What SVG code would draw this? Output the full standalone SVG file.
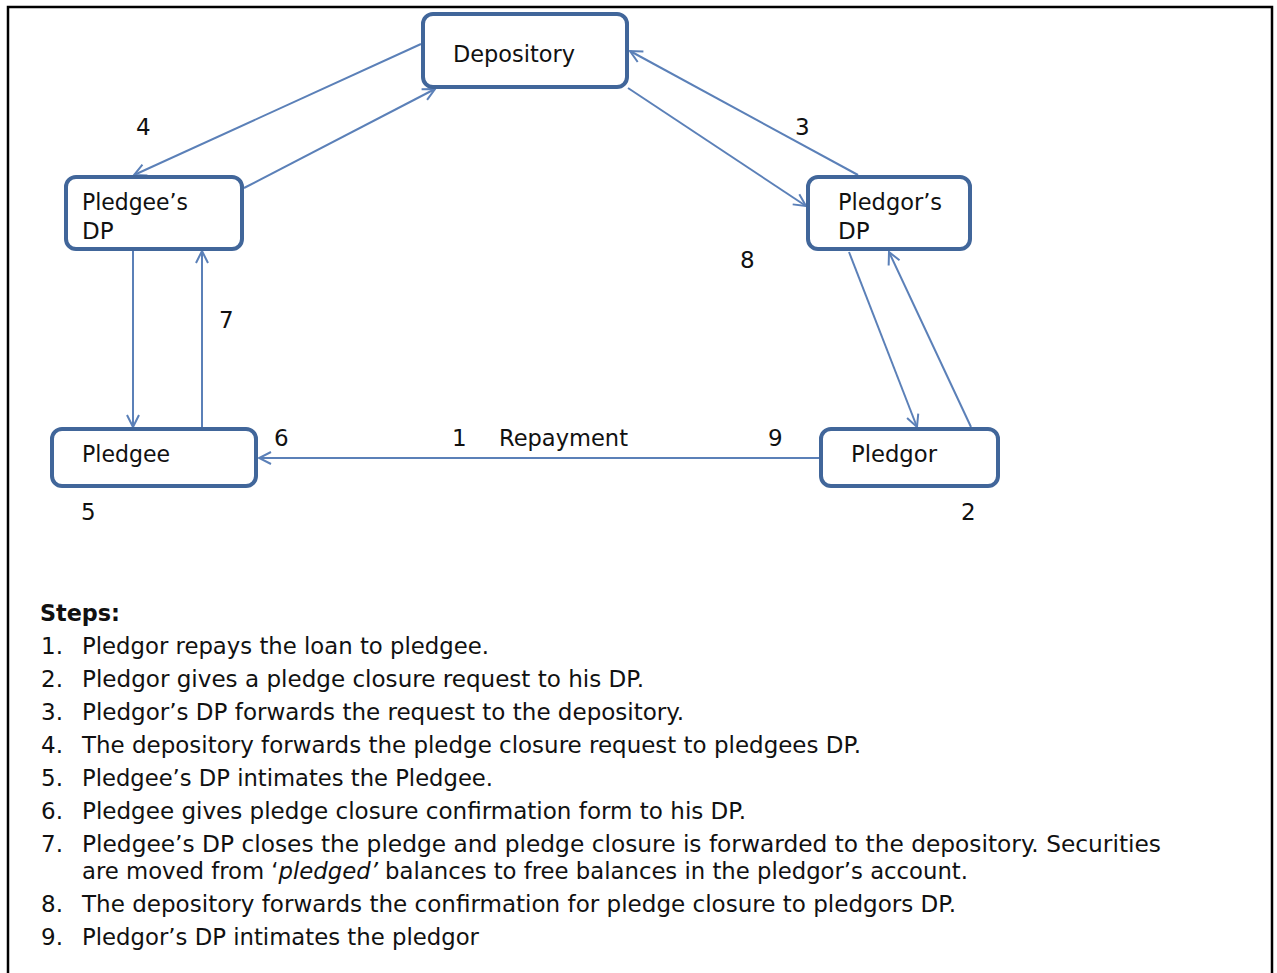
<svg xmlns="http://www.w3.org/2000/svg" width="1277" height="973" viewBox="0 0 1277 973">
<style>
.box{fill:#fff;stroke:#41669a;stroke-width:4}
.lbl{font-family:"DejaVu Sans",Verdana,sans-serif;font-size:23px;fill:#111}
.step{font-family:"DejaVu Sans",Verdana,sans-serif;font-size:23px;fill:#111}
.con{stroke:#5b80b8;stroke-width:2;fill:none;marker-end:url(#ah)}
</style>
<defs>
<marker id="ah" viewBox="-14 -8 16 16" refX="0" refY="0" markerWidth="16" markerHeight="16" markerUnits="userSpaceOnUse" orient="auto">
<path d="M-12,-6 L0,0 L-12,6" fill="none" stroke="#5b80b8" stroke-width="2"/>
</marker>
</defs>
<rect x="0" y="0" width="1277" height="973" fill="#fff"/>
<path d="M8,980 L8,7 L1272,7 L1272,980" fill="none" stroke="#000" stroke-width="2.5"/>

<g id="connectors">
<line class="con" x1="421" y1="44" x2="134" y2="175"/>
<line class="con" x1="244" y1="188" x2="435" y2="89"/>
<line class="con" x1="858" y1="175" x2="630" y2="51"/>
<line class="con" x1="628" y1="88" x2="806" y2="206"/>
<line class="con" x1="133" y1="251" x2="133" y2="427"/>
<line class="con" x1="202" y1="427" x2="202" y2="251"/>
<line class="con" x1="849" y1="252" x2="917" y2="427"/>
<line class="con" x1="971" y1="427" x2="889" y2="252"/>
<line class="con" x1="819" y1="458" x2="259" y2="458"/>
</g>

<g id="depository">
<rect class="box" x="423" y="14" width="204" height="73" rx="10"/>
<text class="lbl" x="453" y="62" textLength="122" lengthAdjust="spacingAndGlyphs">Depository</text>
</g>
<g id="pledgees-dp">
<rect class="box" x="66" y="177" width="176" height="72" rx="10"/>
<text class="lbl" x="82" y="210" textLength="106" lengthAdjust="spacingAndGlyphs">Pledgee’s</text>
<text class="lbl" x="82" y="239">DP</text>
</g>
<g id="pledgors-dp">
<rect class="box" x="808" y="177" width="162" height="72" rx="10"/>
<text class="lbl" x="838" y="210" textLength="104" lengthAdjust="spacingAndGlyphs">Pledgor’s</text>
<text class="lbl" x="838" y="239">DP</text>
</g>
<g id="pledgee">
<rect class="box" x="52" y="429" width="204" height="57" rx="10"/>
<text class="lbl" x="82" y="462" textLength="88" lengthAdjust="spacingAndGlyphs">Pledgee</text>
</g>
<g id="pledgor">
<rect class="box" x="821" y="429" width="177" height="57" rx="10"/>
<text class="lbl" x="851" y="462" textLength="86" lengthAdjust="spacingAndGlyphs">Pledgor</text>
</g>

<g id="labels">
<text class="lbl" x="136" y="135">4</text>
<text class="lbl" x="795" y="135">3</text>
<text class="lbl" x="740" y="268">8</text>
<text class="lbl" x="219" y="328">7</text>
<text class="lbl" x="274" y="446">6</text>
<text class="lbl" x="452" y="446">1</text>
<text class="lbl" x="499" y="446" textLength="129" lengthAdjust="spacingAndGlyphs">Repayment</text>
<text class="lbl" x="768" y="446">9</text>
<text class="lbl" x="81" y="520">5</text>
<text class="lbl" x="961" y="520">2</text>
</g>

<g id="steps">
<text class="step" x="40" y="621" font-weight="bold" textLength="80" lengthAdjust="spacingAndGlyphs">Steps:</text>
<text class="step" x="41" y="654">1.</text>
<text class="step" x="82" y="654" textLength="407" lengthAdjust="spacingAndGlyphs">Pledgor repays the loan to pledgee.</text>
<text class="step" x="41" y="687">2.</text>
<text class="step" x="82" y="687" textLength="562" lengthAdjust="spacingAndGlyphs">Pledgor gives a pledge closure request to his DP.</text>
<text class="step" x="41" y="720">3.</text>
<text class="step" x="82" y="720" textLength="602" lengthAdjust="spacingAndGlyphs">Pledgor’s DP forwards the request to the depository.</text>
<text class="step" x="41" y="753">4.</text>
<text class="step" x="82" y="753" textLength="779" lengthAdjust="spacingAndGlyphs">The depository forwards the pledge closure request to pledgees DP.</text>
<text class="step" x="41" y="786">5.</text>
<text class="step" x="82" y="786" textLength="411" lengthAdjust="spacingAndGlyphs">Pledgee’s DP intimates the Pledgee.</text>
<text class="step" x="41" y="819">6.</text>
<text class="step" x="82" y="819" textLength="664" lengthAdjust="spacingAndGlyphs">Pledgee gives pledge closure confirmation form to his DP.</text>
<text class="step" x="41" y="852">7.</text>
<text class="step" x="82" y="852" textLength="1079" lengthAdjust="spacingAndGlyphs">Pledgee’s DP closes the pledge and pledge closure is forwarded to the depository. Securities</text>
<text class="step" x="82" y="879" textLength="886" lengthAdjust="spacingAndGlyphs">are moved from ‘<tspan font-style="italic">pledged’</tspan> balances to free balances in the pledgor’s account.</text>
<text class="step" x="41" y="912">8.</text>
<text class="step" x="82" y="912" textLength="874" lengthAdjust="spacingAndGlyphs">The depository forwards the confirmation for pledge closure to pledgors DP.</text>
<text class="step" x="41" y="945">9.</text>
<text class="step" x="82" y="945" textLength="397" lengthAdjust="spacingAndGlyphs">Pledgor’s DP intimates the pledgor</text>
</g>
</svg>
